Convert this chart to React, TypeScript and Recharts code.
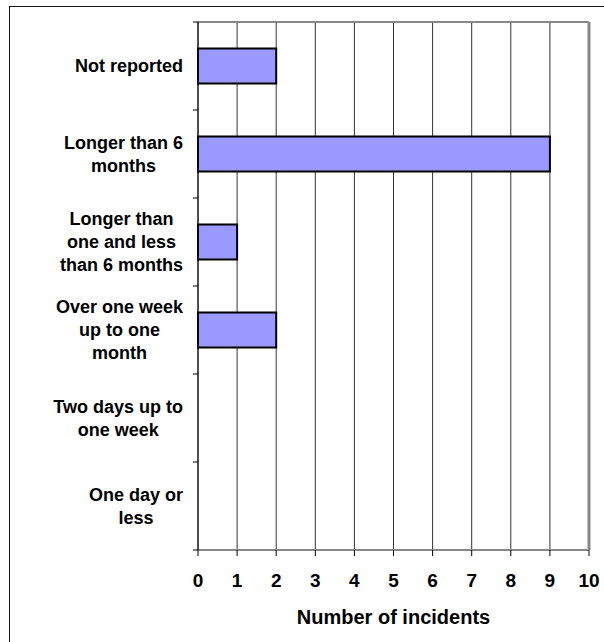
import { BarChart, Bar, XAxis, YAxis, CartesianGrid, ReferenceLine } from 'recharts';

const categories = [
  'Not reported',
  'Longer than 6 months',
  'Longer than one and less than 6 months',
  'Over one week up to one month',
  'Two days up to one week',
  'One day or less',
];

// line breaks as they appear in the original
const labelLines = [
  ['Not reported'],
  ['Longer than 6', 'months'],
  ['Longer than', 'one and less', 'than 6 months'],
  ['Over one week', 'up to one', 'month'],
  ['Two days up to', 'one week'],
  ['One day or', 'less'],
];

const incidents = [2, 9, 1, 2, 0, 0];

const xTicks = [0, 1, 2, 3, 4, 5, 6, 7, 8, 9, 10];

const data = categories.map((name, i) => ({ name, value: incidents[i] }));

const FONT = '"Liberation Sans", Arial, sans-serif';
const LABEL_SIZE = 18;
const LINE_H = 23;

let ctx: CanvasRenderingContext2D | null = null;
function textWidth(s: string) {
  if (!ctx) ctx = document.createElement('canvas').getContext('2d');
  if (!ctx) return s.length * LABEL_SIZE * 0.55;
  ctx.font = `bold ${LABEL_SIZE}px ${FONT}`;
  return ctx.measureText(s).width;
}

// category label, plus Excel-style tick marks on the band edges
function CategoryTick(props: any) {
  const { x, y, height, visibleTicksCount, index } = props;
  const band = height / visibleTicksCount;
  const lines = labelLines[index] || [String(props.payload.value)];
  const w = Math.max(...lines.map(textWidth));
  const cx = x - w / 2;
  const first = y + LABEL_SIZE * 0.36 - ((lines.length - 1) * LINE_H) / 2;
  return (
    <g>
      <line x1={x + 10} x2={x + 15} y1={y - band / 2} y2={y - band / 2} stroke="#000" />
      {index === visibleTicksCount - 1 && (
        <line x1={x + 10} x2={x + 15} y1={y + band / 2} y2={y + band / 2} stroke="#000" />
      )}
      <text textAnchor="middle" fontFamily={FONT} fontWeight="bold" fontSize={LABEL_SIZE} fill="#000">
        {lines.map((l, i) => (
          <tspan key={i} x={cx} y={first + i * LINE_H}>
            {l}
          </tspan>
        ))}
      </text>
    </g>
  );
}

export default function App() {
  return (
    <div style={{ position: 'absolute', left: 0, top: 0, width: 604, height: 642, background: '#fff', overflow: 'hidden' }}>
      <BarChart
        width={604}
        height={642}
        data={data}
        layout="vertical"
        margin={{ top: 22, right: 15, bottom: 0, left: 0 }}
        barCategoryGap="30%"
        style={{ position: 'absolute', left: 0, top: 0 }}
      >
        <CartesianGrid horizontal={false} stroke="#333" />
        {/* grey top edge of the plot area */}
        <CartesianGrid
          vertical={false}
          stroke="#888"
          strokeWidth={2}
          horizontalCoordinatesGenerator={({ offset }: any) => [offset.top]}
        />
        <XAxis
          type="number"
          domain={[0, 10]}
          ticks={xTicks}
          interval={0}
          height={92}
          tickSize={6}
          tickMargin={18}
          axisLine={{ stroke: '#888', strokeWidth: 2 }}
          tickLine={{ stroke: '#000' }}
          tick={{ fontFamily: FONT, fontWeight: 'bold', fontSize: 19, fill: '#000' }}
          label={{
            value: 'Number of incidents',
            position: 'insideBottom',
            offset: 18,
            style: { fontFamily: FONT, fontWeight: 'bold', fontSize: 20, fill: '#000' },
          }}
        />
        <YAxis
          type="category"
          dataKey="name"
          interval={0}
          width={198}
          tickSize={0}
          tickMargin={15}
          tickLine={false}
          axisLine={{ stroke: '#000' }}
          tick={<CategoryTick />}
        />
        <ReferenceLine x={10} stroke="#888" strokeWidth={3} />
        <Bar
          dataKey="value"
          fill="#9999FF"
          stroke="#000"
          strokeWidth={2}
          isAnimationActive={false}
        />
      </BarChart>
      <div
        style={{
          position: 'absolute',
          left: 9,
          top: 6,
          width: 640,
          height: 680,
          borderLeft: '1px solid #111',
          borderTop: '1px solid #111',
          pointerEvents: 'none',
        }}
      />
    </div>
  );
}
